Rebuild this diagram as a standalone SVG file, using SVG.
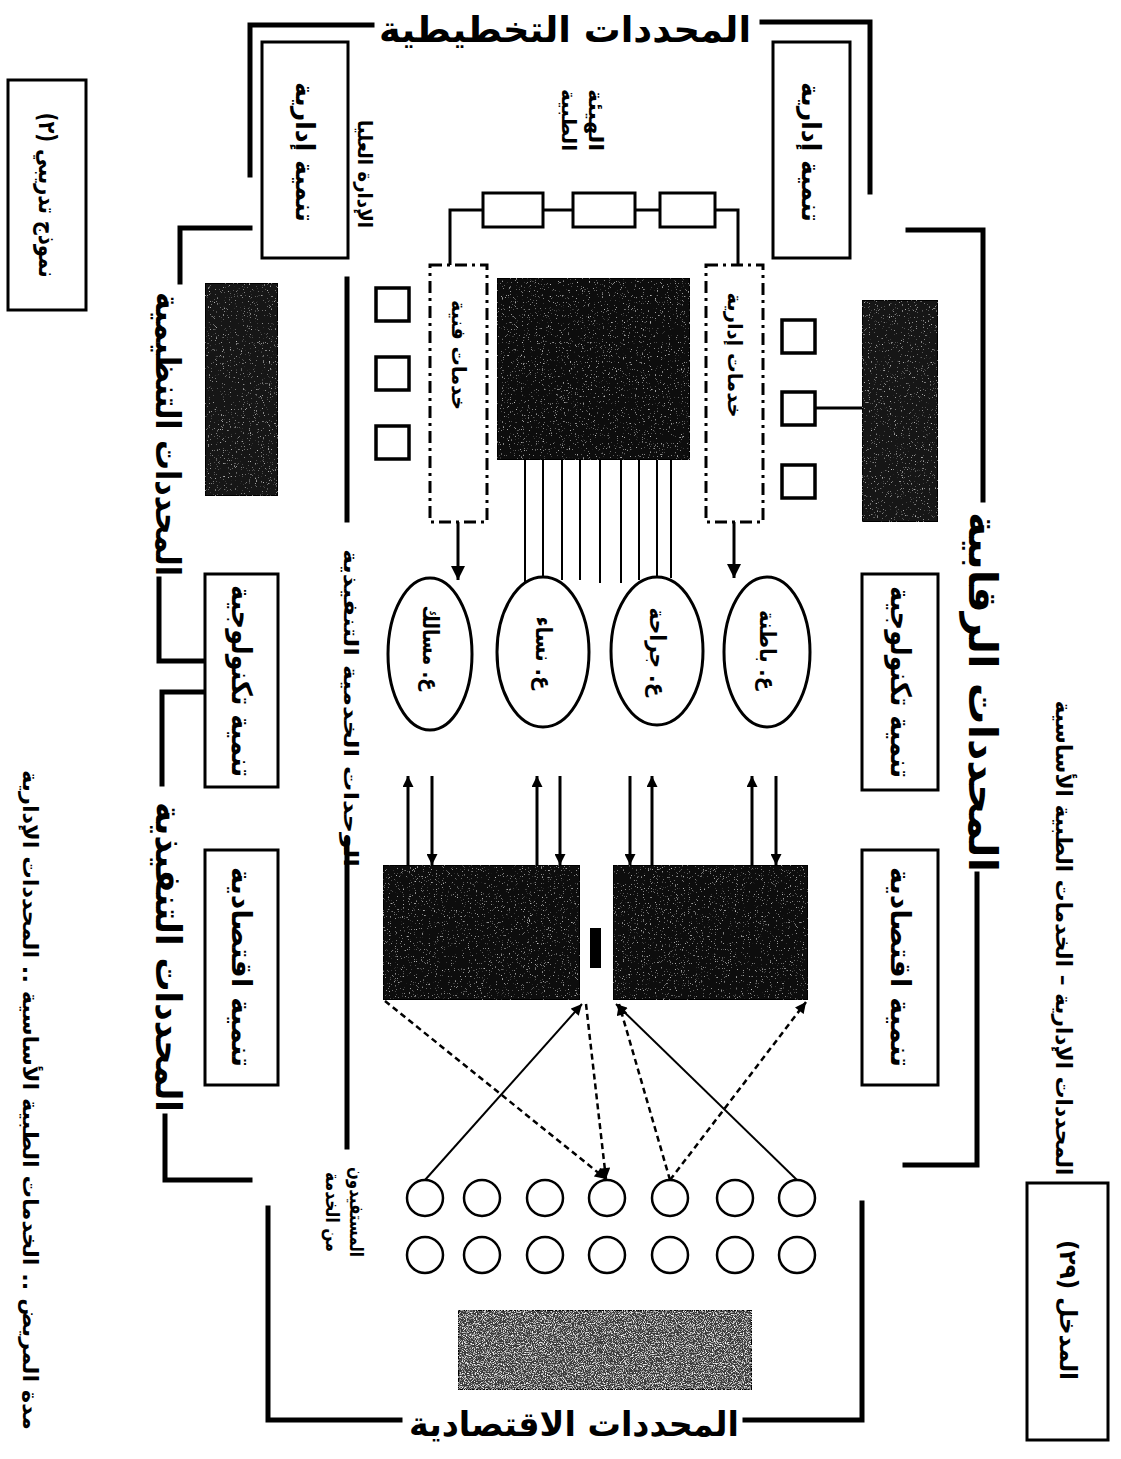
<svg xmlns="http://www.w3.org/2000/svg" width="1121" height="1459" viewBox="0 0 1121 1459">
<style>
.t{font-family:"DejaVu Sans","Noto Sans",sans-serif;font-weight:bold;fill:#000;direction:rtl}
.box{fill:#fff;stroke:#000;stroke-width:3}
.dark{stroke:#000;stroke-width:2}
.frame{fill:none;stroke:#000;stroke-width:5;stroke-linecap:square}
.ln{fill:none;stroke:#000;stroke-width:3}
.thin{fill:none;stroke:#000;stroke-width:2}
.dash{fill:none;stroke:#000;stroke-width:2.5;stroke-dasharray:6 4}
.dd{fill:#fff;stroke:#000;stroke-width:3;stroke-dasharray:12 5 3 5}
.ell{fill:#fff;stroke:#000;stroke-width:3}
.cir{fill:#fff;stroke:#000;stroke-width:2.5}
.sq{fill:#fff;stroke:#000;stroke-width:3.5}
</style>
<defs>
<marker id="ah" viewBox="0 0 10 10" refX="10" refY="5" markerUnits="userSpaceOnUse" markerWidth="12" markerHeight="11" orient="auto"><path d="M0,0 L10,5 L0,10 z" fill="#000"/></marker>
<marker id="ahb" viewBox="0 0 10 10" refX="10" refY="5" markerUnits="userSpaceOnUse" markerWidth="15" markerHeight="14" orient="auto"><path d="M0,0 L10,5 L0,10 z" fill="#000"/></marker>
<filter id="grain" x="0" y="0" width="100%" height="100%">
<feTurbulence type="fractalNoise" baseFrequency="0.85" numOctaves="2" seed="4" result="n"/>
<feColorMatrix in="n" type="matrix" values="0 0 0 0 1 0 0 0 0 1 0 0 0 0 1 2.6 0 0 0 -1.72" result="s"/>
<feComposite in="s" in2="SourceGraphic" operator="in" result="c"/>
<feMerge><feMergeNode in="SourceGraphic"/><feMergeNode in="c"/></feMerge>
</filter>
<filter id="grain2" x="0" y="0" width="100%" height="100%">
<feTurbulence type="fractalNoise" baseFrequency="0.9" numOctaves="2" seed="7" result="n"/>
<feColorMatrix in="n" type="matrix" values="0 0 0 0 1 0 0 0 0 1 0 0 0 0 1 3.5 0 0 0 -1.7" result="s"/>
<feComposite in="s" in2="SourceGraphic" operator="in" result="c"/>
<feMerge><feMergeNode in="SourceGraphic"/><feMergeNode in="c"/></feMerge>
</filter>
</defs>
<rect width="1121" height="1459" fill="#fff"/>

<g id="frame">
<path class="frame" d="M372,25 H250 V175"/>
<path class="frame" d="M762,22 H870 V192"/>
<path class="frame" d="M250,228 H180 V282"/>
<path class="frame" d="M908,230 H983 V500"/>
<path class="frame" d="M159,579 V661 H205"/>
<path class="frame" d="M205,692 H162 V784"/>
<path class="frame" d="M165,1116 V1180 H250"/>
<path class="frame" d="M977,874 V1165 H905"/>
<path class="frame" d="M268,1208 V1420 H400"/>
<path class="frame" d="M745,1420 H862 V1203"/>
<path class="frame" d="M347,279 V520"/>
<path class="frame" d="M347,840 V1147"/>
</g>

<g id="titles">
<text class="t" x="565" y="29" font-size="36" text-anchor="middle" dominant-baseline="central" textLength="372" lengthAdjust="spacingAndGlyphs">المحددات التخطيطية</text>
<text class="t" transform="translate(983,692) rotate(90)" font-size="40" text-anchor="middle" dominant-baseline="central" textLength="360" lengthAdjust="spacingAndGlyphs">المحددات الرقابية</text>
<text class="t" transform="translate(168,434) rotate(90)" font-size="34" text-anchor="middle" dominant-baseline="central" textLength="284" lengthAdjust="spacingAndGlyphs">المحددات التنظيمية</text>
<text class="t" transform="translate(168,957) rotate(90)" font-size="36" text-anchor="middle" dominant-baseline="central" textLength="310" lengthAdjust="spacingAndGlyphs">المحددات التنفيذية</text>
<text class="t" x="574" y="1424" font-size="34" text-anchor="middle" dominant-baseline="central" textLength="330" lengthAdjust="spacingAndGlyphs">المحددات الاقتصادية</text>
<text class="t" transform="translate(1063,938) rotate(90)" font-size="22" text-anchor="middle" dominant-baseline="central" textLength="475" lengthAdjust="spacingAndGlyphs">المحددات الإدارية – الخدمات الطبية الأساسية</text>
<text class="t" transform="translate(30,1100) rotate(90)" font-size="21" text-anchor="middle" dominant-baseline="central" textLength="660" lengthAdjust="spacingAndGlyphs">مدة المريض .. الخدمات الطبية الأساسية .. المحددات الإدارية</text>
<text class="t" transform="translate(365,174) rotate(90)" font-size="20" text-anchor="middle" dominant-baseline="central" textLength="108" lengthAdjust="spacingAndGlyphs">الإدارة العليا</text>
<text class="t" transform="translate(596,120) rotate(90)" font-size="20" text-anchor="middle" dominant-baseline="central" textLength="62" lengthAdjust="spacingAndGlyphs">الهيئة</text>
<text class="t" transform="translate(569,120) rotate(90)" font-size="20" text-anchor="middle" dominant-baseline="central" textLength="62" lengthAdjust="spacingAndGlyphs">الطبية</text>
<text class="t" transform="translate(351,708) rotate(90)" font-size="20" text-anchor="middle" dominant-baseline="central" textLength="318" lengthAdjust="spacingAndGlyphs">الوحدات الخدمية التنفيذية</text>
<text class="t" transform="translate(357,1212) rotate(90)" font-size="19" text-anchor="middle" dominant-baseline="central" textLength="90" lengthAdjust="spacingAndGlyphs">المستفيدون</text>
<text class="t" transform="translate(333,1212) rotate(90)" font-size="19" text-anchor="middle" dominant-baseline="central" textLength="80" lengthAdjust="spacingAndGlyphs">من الخدمة</text>
</g>

<g id="connectors">
<path class="ln" d="M450,265 V210 H483"/>
<path class="ln" d="M543,210 H573"/>
<path class="ln" d="M635,210 H660"/>
<path class="ln" d="M715,210 H738 V265"/>
<path class="ln" d="M815,408 H862"/>
<line class="ln" x1="458" y1="522" x2="458" y2="580" marker-end="url(#ahb)"/>
<line class="ln" x1="734" y1="522" x2="734" y2="578" marker-end="url(#ahb)"/>
<g class="thin">
<line x1="525" y1="460" x2="525" y2="582"/>
<line x1="543" y1="460" x2="543" y2="578"/>
<line x1="562" y1="460" x2="562" y2="580"/>
<line x1="580" y1="460" x2="580" y2="580"/>
<line x1="600" y1="460" x2="600" y2="583"/>
<line x1="621" y1="460" x2="621" y2="583"/>
<line x1="639" y1="460" x2="639" y2="580"/>
<line x1="657" y1="460" x2="657" y2="577"/>
<line x1="671" y1="460" x2="671" y2="578"/>
</g>
<line class="ln" x1="408" y1="865" x2="408" y2="776" marker-end="url(#ah)"/>
<line class="ln" x1="432" y1="776" x2="432" y2="865" marker-end="url(#ah)"/>
<line class="ln" x1="537" y1="865" x2="537" y2="776" marker-end="url(#ah)"/>
<line class="ln" x1="560" y1="776" x2="560" y2="865" marker-end="url(#ah)"/>
<line class="ln" x1="630" y1="776" x2="630" y2="865" marker-end="url(#ah)"/>
<line class="ln" x1="652" y1="865" x2="652" y2="776" marker-end="url(#ah)"/>
<line class="ln" x1="752" y1="865" x2="752" y2="776" marker-end="url(#ah)"/>
<line class="ln" x1="776" y1="776" x2="776" y2="865" marker-end="url(#ah)"/>
<line class="thin" x1="425" y1="1180" x2="582" y2="1004" marker-end="url(#ah)"/>
<line class="thin" x1="797" y1="1180" x2="616" y2="1004" marker-end="url(#ah)"/>
<line class="dash" x1="385" y1="1001" x2="606" y2="1179" marker-end="url(#ah)"/>
<line class="dash" x1="586" y1="1004" x2="606" y2="1179" marker-end="url(#ah)"/>
<line class="dash" x1="670" y1="1180" x2="619" y2="1004" marker-end="url(#ah)"/>
<line class="dash" x1="670" y1="1180" x2="806" y2="1002" marker-end="url(#ah)"/>
</g>

<g id="model-box"><rect class="box" x="8" y="80" width="78" height="230"/>
<text class="t" transform="translate(47,195) rotate(90)" font-size="24" text-anchor="middle" dominant-baseline="central" textLength="165" lengthAdjust="spacingAndGlyphs">نموذج تدريبي (٢)</text></g>
<g id="entry-box"><rect class="box" x="1027" y="1183" width="81" height="257"/>
<text class="t" transform="translate(1068,1310) rotate(90)" font-size="24" text-anchor="middle" dominant-baseline="central" textLength="140" lengthAdjust="spacingAndGlyphs">المدخل (٢٩)</text></g>

<g id="adm-left"><rect class="box" x="262" y="42" width="86" height="216"/>
<text class="t" transform="translate(305,152) rotate(90)" font-size="26" text-anchor="middle" dominant-baseline="central" textLength="140" lengthAdjust="spacingAndGlyphs">تنمية إدارية</text></g>
<g id="adm-right"><rect class="box" x="773" y="42" width="77" height="216"/>
<text class="t" transform="translate(811,152) rotate(90)" font-size="26" text-anchor="middle" dominant-baseline="central" textLength="140" lengthAdjust="spacingAndGlyphs">تنمية إدارية</text></g>

<g id="dark-left"><rect class="dark" x="205" y="283" width="73" height="213" fill="#141414" filter="url(#grain)"/></g>
<g id="dark-right"><rect class="dark" x="862" y="300" width="76" height="222" fill="#141414" filter="url(#grain)"/></g>
<g id="dark-center"><rect class="dark" x="497" y="278" width="193" height="182" fill="#0c0c0c" filter="url(#grain)"/></g>
<g id="dark-low-left"><rect class="dark" x="383" y="865" width="197" height="135" fill="#111" filter="url(#grain)"/></g>
<g id="dark-low-right"><rect class="dark" x="613" y="865" width="195" height="135" fill="#111" filter="url(#grain)"/></g>
<g id="bar"><rect x="590" y="928" width="11" height="40" fill="#000"/></g>
<g id="grey-bottom"><rect class="dark" x="458" y="1310" width="294" height="80" fill="#3a3a3a" filter="url(#grain2)"/></g>

<g id="tech-left"><rect class="box" x="205" y="574" width="73" height="213"/>
<text class="t" transform="translate(241,681) rotate(90)" font-size="28" text-anchor="middle" dominant-baseline="central" textLength="192" lengthAdjust="spacingAndGlyphs">تنمية تكنولوجية</text></g>
<g id="tech-right"><rect class="box" x="862" y="574" width="76" height="216"/>
<text class="t" transform="translate(900,682) rotate(90)" font-size="28" text-anchor="middle" dominant-baseline="central" textLength="192" lengthAdjust="spacingAndGlyphs">تنمية تكنولوجية</text></g>
<g id="econ-left"><rect class="box" x="205" y="850" width="73" height="235"/>
<text class="t" transform="translate(241,967) rotate(90)" font-size="28" text-anchor="middle" dominant-baseline="central" textLength="200" lengthAdjust="spacingAndGlyphs">تنمية اقتصادية</text></g>
<g id="econ-right"><rect class="box" x="862" y="850" width="76" height="235"/>
<text class="t" transform="translate(900,967) rotate(90)" font-size="28" text-anchor="middle" dominant-baseline="central" textLength="200" lengthAdjust="spacingAndGlyphs">تنمية اقتصادية</text></g>

<g id="chain-1"><rect class="ln" x="483" y="193" width="60" height="34" fill="#fff" stroke-width="4"/></g>
<g id="chain-2"><rect class="ln" x="573" y="193" width="62" height="34" fill="#fff" stroke-width="4"/></g>
<g id="chain-3"><rect class="ln" x="660" y="193" width="55" height="34" fill="#fff" stroke-width="4"/></g>

<g id="tech-services"><rect class="dd" x="430" y="265" width="57" height="257"/>
<text class="t" transform="translate(459,355) rotate(90)" font-size="20" text-anchor="middle" dominant-baseline="central" textLength="110" lengthAdjust="spacingAndGlyphs">خدمات فنية</text></g>
<g id="adm-services"><rect class="dd" x="706" y="265" width="57" height="257"/>
<text class="t" transform="translate(735,355) rotate(90)" font-size="20" text-anchor="middle" dominant-baseline="central" textLength="125" lengthAdjust="spacingAndGlyphs">خدمات إدارية</text></g>

<g id="sq-l1"><rect class="sq" x="376" y="288" width="33" height="33"/></g>
<g id="sq-l2"><rect class="sq" x="376" y="357" width="33" height="33"/></g>
<g id="sq-l3"><rect class="sq" x="376" y="426" width="33" height="33"/></g>
<g id="sq-r1"><rect class="sq" x="782" y="320" width="33" height="33"/></g>
<g id="sq-r2"><rect class="sq" x="782" y="392" width="33" height="33"/></g>
<g id="sq-r3"><rect class="sq" x="782" y="465" width="33" height="33"/></g>

<g id="ell-urology"><ellipse class="ell" cx="430" cy="654" rx="42" ry="76"/>
<text class="t" transform="translate(430,648) rotate(90)" font-size="22" text-anchor="middle" dominant-baseline="central" textLength="85" lengthAdjust="spacingAndGlyphs">ع. مسالك</text></g>
<g id="ell-women"><ellipse class="ell" cx="543" cy="652" rx="46" ry="75"/>
<text class="t" transform="translate(543,653) rotate(90)" font-size="22" text-anchor="middle" dominant-baseline="central" textLength="73" lengthAdjust="spacingAndGlyphs">ع. نساء</text></g>
<g id="ell-surgery"><ellipse class="ell" cx="657" cy="651" rx="46" ry="74"/>
<text class="t" transform="translate(657,652) rotate(90)" font-size="22" text-anchor="middle" dominant-baseline="central" textLength="89" lengthAdjust="spacingAndGlyphs">ع. جراحة</text></g>
<g id="ell-internal"><ellipse class="ell" cx="767" cy="652" rx="43" ry="75"/>
<text class="t" transform="translate(767,650) rotate(90)" font-size="22" text-anchor="middle" dominant-baseline="central" textLength="80" lengthAdjust="spacingAndGlyphs">ع. باطنة</text></g>

<g id="c1a"><circle class="cir" cx="425" cy="1198" r="18"/></g>
<g id="c2a"><circle class="cir" cx="482" cy="1198" r="18"/></g>
<g id="c3a"><circle class="cir" cx="545" cy="1198" r="18"/></g>
<g id="c4a"><circle class="cir" cx="607" cy="1198" r="18"/></g>
<g id="c5a"><circle class="cir" cx="670" cy="1198" r="18"/></g>
<g id="c6a"><circle class="cir" cx="735" cy="1198" r="18"/></g>
<g id="c7a"><circle class="cir" cx="797" cy="1198" r="18"/></g>
<g id="c1b"><circle class="cir" cx="425" cy="1255" r="18"/></g>
<g id="c2b"><circle class="cir" cx="482" cy="1255" r="18"/></g>
<g id="c3b"><circle class="cir" cx="545" cy="1255" r="18"/></g>
<g id="c4b"><circle class="cir" cx="607" cy="1255" r="18"/></g>
<g id="c5b"><circle class="cir" cx="670" cy="1255" r="18"/></g>
<g id="c6b"><circle class="cir" cx="735" cy="1255" r="18"/></g>
<g id="c7b"><circle class="cir" cx="797" cy="1255" r="18"/></g>
</svg>
